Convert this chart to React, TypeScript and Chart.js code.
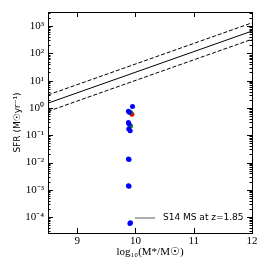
import React, { useEffect, useRef } from "react";
import { Chart, registerables } from "chart.js";

Chart.register(...registerables);

const xTickValues = [9, 10, 11, 12];
const yDecades = [-5, -4, -3, -2, -1, 0, 1, 2, 3];
const supers: Record<string, string> = { "-": "⁻", "0": "⁰", "1": "¹", "2": "²", "3": "³", "4": "⁴", "5": "⁵", "6": "⁶", "7": "⁷", "8": "⁸", "9": "⁹" };

const msMass = [8.5, 12];
const msSfr = [1.5, 660];
const msUpper = [3.0, 1320];
const msLower = [0.75, 330];

const blueMass = [9.95, 9.88, 9.895, 9.88, 9.89, 9.885, 9.91, 9.88, 9.89, 9.88, 9.89, 9.905, 9.915];
const blueSfr = [1.12, 0.75, 0.7, 0.29, 0.26, 0.17, 0.145, 0.0135, 0.013, 0.0014, 0.00135, 0.000058, 0.000062];
const greenMass = [9.915, 9.915];
const greenSfr = [0.68, 0.22];
const redMass = [9.94];
const redSfr = [0.59];

const legendLabel = "S14 MS at z=1.85";
const xTitle = "log₁₀(M*/M☉)";
const yTitle = "SFR (M☉yr⁻¹)";

const toPts = (xs: number[], ys: number[]) => xs.map((x, i) => ({ x, y: ys[i] }));
const sup = (n: number) => String(n).split("").map((c) => supers[c]).join("");

const ticksAndFrame = {
  id: "ticksAndFrame",
  afterDatasetsDraw(chart: any) {
    const ctx = chart.ctx;
    const a = chart.chartArea;
    const xs = chart.scales.x;
    const ys = chart.scales.y;
    ctx.save();
    ctx.strokeStyle = "#000";
    ctx.lineWidth = 1;
    ctx.beginPath();
    for (const v of xTickValues) {
      const px = Math.round(xs.getPixelForValue(v)) + 0.5;
      ctx.moveTo(px, a.bottom);
      ctx.lineTo(px, a.bottom - 5);
      ctx.moveTo(px, a.top);
      ctx.lineTo(px, a.top + 5);
    }
    for (const d of yDecades) {
      for (let m = 1; m <= 9; m++) {
        const v = m * Math.pow(10, d);
        if (v < ys.min || v > ys.max) continue;
        const py = Math.round(ys.getPixelForValue(v)) + 0.5;
        const len = m === 1 ? 5 : 2.5;
        ctx.moveTo(a.left, py);
        ctx.lineTo(a.left + len, py);
        ctx.moveTo(a.right, py);
        ctx.lineTo(a.right - len, py);
      }
    }
    ctx.stroke();
    ctx.strokeRect(Math.round(a.left) + 0.5, Math.round(a.top) + 0.5, Math.round(a.right - a.left), Math.round(a.bottom - a.top));
    // legend
    const ly = a.bottom - 15;
    const lx = a.right - 117;
    ctx.strokeStyle = "#808080";
    ctx.lineWidth = 1.3;
    ctx.beginPath();
    ctx.moveTo(lx, ly);
    ctx.lineTo(lx + 20, ly);
    ctx.stroke();
    ctx.fillStyle = "#000";
    ctx.font = "9px 'DejaVu Sans'";
    ctx.textBaseline = "middle";
    ctx.textAlign = "left";
    ctx.fillText(legendLabel, lx + 28, ly);
    ctx.restore();
  },
};

export default function App() {
  const ref = useRef<HTMLCanvasElement>(null);
  useEffect(() => {
    document.body.style.margin = "0";
    const chart = new Chart(ref.current as HTMLCanvasElement, {
      type: "scatter",
      data: {
        datasets: [
          { type: "line", data: toPts(msMass, msSfr), borderColor: "#000", borderWidth: 1, pointRadius: 0, fill: false },
          { type: "line", data: toPts(msMass, msUpper), borderColor: "#000", borderWidth: 1, borderDash: [4, 2], pointRadius: 0, fill: false },
          { type: "line", data: toPts(msMass, msLower), borderColor: "#000", borderWidth: 1, borderDash: [4, 2], pointRadius: 0, fill: false },
          { data: toPts(blueMass, blueSfr), backgroundColor: "#0000ff", borderColor: "#0000ff", pointRadius: 2.5, borderWidth: 0 },
          { data: toPts(greenMass, greenSfr), backgroundColor: "#008000", borderColor: "#008000", pointRadius: 2.5, borderWidth: 0 },
          { data: toPts(redMass, redSfr), backgroundColor: "#ff0000", borderColor: "#ff0000", pointRadius: 2.5, borderWidth: 0 },
        ] as any,
      },
      options: {
        animation: false,
        responsive: false,
        layout: { padding: { top: 12, right: 17, left: 12, bottom: 10 } },
        plugins: { legend: { display: false }, tooltip: { enabled: false } },
        scales: {
          x: {
            type: "linear",
            min: 8.5,
            max: 12,
            afterBuildTicks: (s: any) => { s.ticks = xTickValues.map((v) => ({ value: v })); },
            afterFit: (s: any) => { s.height = 26; },
            grid: { display: false, drawTicks: false },
            border: { display: false },
            ticks: { color: "#000", font: { family: "'Liberation Serif'", size: 11 }, padding: 2, maxRotation: 0, callback: (v: any) => String(v) },
            title: { display: true, text: xTitle, color: "#000", font: { family: "'Liberation Serif'", size: 11 }, padding: { top: 0, bottom: 0 } },
          },
          y: {
            type: "logarithmic",
            min: 2.6e-5,
            max: 3300,
            afterBuildTicks: (s: any) => { s.ticks = yDecades.filter((d) => Math.pow(10, d) >= 2.6e-5).map((d) => ({ value: Math.pow(10, d) })); },
            afterFit: (s: any) => { s.width = 36; },
            grid: { display: false, drawTicks: false },
            border: { display: false },
            ticks: {
              color: "#000",
              font: { family: "'Liberation Serif'", size: 11 },
              padding: 4,
              autoSkip: false,
              callback: (v: any) => "10" + sup(Math.round(Math.log10(v))),
            },
            title: { display: true, text: yTitle, color: "#000", font: { family: "'DejaVu Sans'", size: 9 }, padding: { top: 0, bottom: 0 } },
          },
        },
      },
      plugins: [ticksAndFrame],
    });
    return () => chart.destroy();
  }, []);
  return (
    <div style={{ position: "fixed", left: 0, top: 0, width: 269, height: 269, background: "#fff" }}>
      <canvas ref={ref} width={269} height={269} style={{ width: 269, height: 269 }} />
    </div>
  );
}
